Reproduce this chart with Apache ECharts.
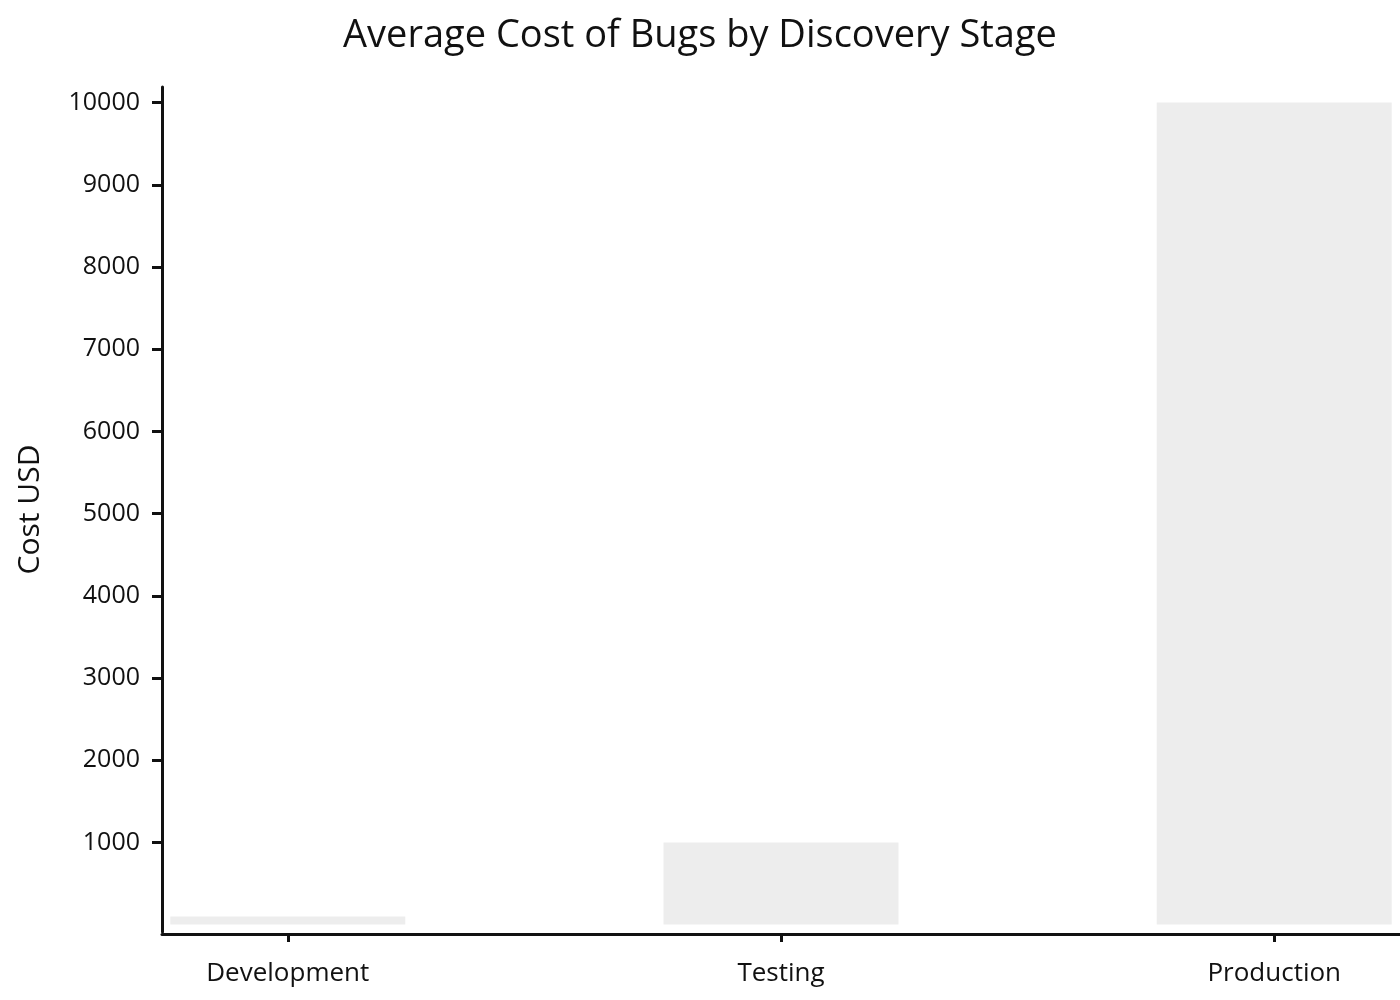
<!DOCTYPE html>
<html>
<head>
<meta charset="utf-8">
<title>Average Cost of Bugs by Discovery Stage</title>
<script src="https://cdn.jsdelivr.net/npm/echarts@6/dist/echarts.min.js"></script>
<style>
    html, body { margin: 0; padding: 0; background: #fff; }
    #js-bugcost { width: 1400px; height: 1000px; }
</style>
</head>
<body>
<div id="js-bugcost"></div>
<script>
// 发现阶段
var stages = ["Development", "Testing", "Production"];
// 平均成本 (USD)
var costs = [100, 1000, 10000];
// 纵轴刻度
var yTicks = [1000, 2000, 3000, 4000, 5000, 6000, 7000, 8000, 9000, 10000];

var bugCost = {
    init: function () {
        var me = this;
        me.render();
        me.chartInit();
    },
    render: function () {
        this.chartEL = document.getElementById('js-bugcost');
    },
    chartInit: function () {
        var me = this;
        var chart = echarts.init(me.chartEL);
        var font = "Open Sans";
        var ink = "#111";
        var seriesData = [];
        for (var i = 0; i < stages.length; i++) {
            seriesData.push([i, costs[i]]);
        }
        var option = {
            animation: false,
            textStyle: {
                fontFamily: font,
                color: ink
            },
            title: {
                text: "Average Cost of Bugs by Discovery Stage",
                left: "center",
                top: 12,
                textStyle: {
                    fontFamily: font,
                    fontSize: 38,
                    fontWeight: "normal",
                    color: ink
                }
            },
            grid: {
                left: 162,
                right: -2,
                top: 87,
                bottom: 68,
                containLabel: false
            },
            xAxis: {
                type: "value",
                min: -0.255,
                max: 2.255,
                offset: 2,
                splitLine: { show: false },
                axisLine: {
                    show: true,
                    onZero: false,
                    lineStyle: { color: ink, width: 3 }
                },
                axisTick: {
                    show: true,
                    length: 8,
                    customValues: [0, 1, 2],
                    lineStyle: { color: ink, width: 3 }
                },
                axisLabel: {
                    customValues: [0, 1, 2],
                    margin: 27,
                    fontSize: 26,
                    color: ink,
                    fontFamily: font,
                    formatter: function (v) {
                        return stages[Math.round(v)];
                    }
                }
            },
            yAxis: {
                type: "value",
                min: -90,
                max: 10190,
                name: "Cost USD",
                nameLocation: "middle",
                nameGap: 117,
                nameTextStyle: {
                    fontSize: 30,
                    color: ink,
                    fontFamily: font
                },
                splitLine: { show: false },
                axisLine: {
                    show: true,
                    onZero: false,
                    lineStyle: { color: ink, width: 3 }
                },
                axisTick: {
                    show: true,
                    length: 10,
                    customValues: yTicks,
                    lineStyle: { color: ink, width: 3 }
                },
                axisLabel: {
                    customValues: yTicks,
                    margin: 22,
                    fontSize: 25,
                    color: ink,
                    fontFamily: font,
                    formatter: function (v) {
                        return String(v);
                    }
                }
            },
            series: [{
                name: "Cost USD",
                type: "bar",
                barWidth: 235,
                itemStyle: { color: "#ededed" },
                data: seriesData
            }]
        };
        chart.setOption(option);
    }
};
bugCost.init();
</script>
</body>
</html>
